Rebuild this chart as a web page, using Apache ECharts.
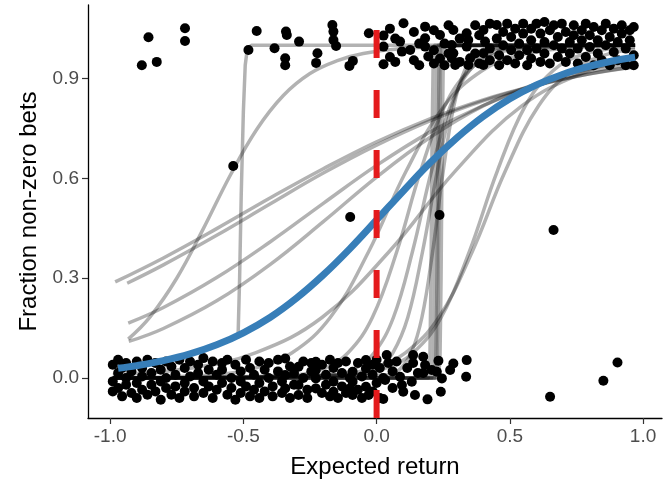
<!DOCTYPE html>
<html>
<head>
<meta charset="utf-8">
<script src="https://cdn.jsdelivr.net/npm/echarts@6/dist/echarts.min.js"></script>
<style>
  html, body { margin: 0; padding: 0; background: #fff; }
  #chart { width: 668px; height: 484px; }
</style>
</head>
<body>
<div id="chart"></div>
<script>
// Axis ticks
const xTicks = [-1, -0.5, 0, 0.5, 1];
const yTicks = [0, 0.3, 0.6, 0.9];

// Trials with no bet (jittered around 0)
const noBetTrials = [
  [-0.99,0.04],[-0.99,-0.01],[-0.99,-0.04],
  [-0.97,0.055],[-0.97,0.015],[-0.97,-0.03],
  [-0.955,-0.055],[-0.955,0.03],
  [-0.94,0.045],[-0.94,-0.02],[-0.94,0.0],
  [-0.92,0.02],[-0.92,-0.045],
  [-0.90,0.05],[-0.90,-0.015],[-0.90,-0.06],
  [-0.88,0.03],[-0.88,0.005],[-0.88,-0.035],
  [-0.86,0.055],[-0.86,-0.05],
  [-0.845,0.015],[-0.845,-0.02],
  [-0.83,0.045],[-0.83,-0.04],
  [-0.81,0.025],[-0.81,-0.01],[-0.81,-0.065],
  [-0.79,0.05],[-0.79,0.0],[-0.79,-0.03],
  [-0.77,0.035],[-0.77,-0.05],
  [-0.755,0.01],[-0.755,-0.025],
  [-0.74,0.055],[-0.74,-0.06],
  [-0.72,0.03],[-0.72,-0.015],[-0.72,-0.04],
  [-0.70,0.05],[-0.70,0.005],
  [-0.685,-0.03],[-0.685,-0.055],
  [-0.67,0.04],[-0.67,0.015],
  [-0.65,0.06],[-0.65,-0.01],[-0.65,-0.045],
  [-0.63,0.025],[-0.63,-0.025],
  [-0.615,0.05],[-0.615,-0.06],
  [-0.60,0.01],[-0.60,-0.035],
  [-0.58,0.045],[-0.58,0.025],[-0.58,-0.015],
  [-0.56,0.055],[-0.56,-0.05],
  [-0.545,0.0],[-0.545,-0.03],
  [-0.53,0.04],[-0.53,-0.065],
  [-0.51,0.02],[-0.51,-0.01],[-0.51,-0.045],
  [-0.49,0.055],[-0.49,-0.025],
  [-0.475,0.03],[-0.475,-0.055],
  [-0.46,0.01],[-0.46,-0.035],
  [-0.44,0.05],[-0.44,-0.015],[-0.44,-0.06],
  [-0.42,0.025],[-0.42,-0.04],
  [-0.405,0.045],[-0.405,0.0],
  [-0.39,-0.025],[-0.39,-0.055],
  [-0.37,0.055],[-0.37,0.02],
  [-0.355,-0.01],[-0.355,-0.045],
  [-0.343,0.059],[-0.343,0.009],[-0.343,-0.031],
  [-0.325,0.035],[-0.325,-0.06],
  [-0.31,0.015],[-0.31,-0.02],
  [-0.293,0.034],[-0.293,-0.021],[-0.293,-0.051],
  [-0.275,0.05],[-0.275,0.0],
  [-0.26,-0.035],[-0.26,-0.06],
  [-0.245,0.02],[-0.245,0.045],
  [-0.228,0.049],[-0.228,0.024],[-0.228,-0.001],[-0.228,-0.031],
  [-0.205,0.04],[-0.205,-0.045],
  [-0.19,0.01],[-0.19,-0.02],
  [-0.175,0.055],[-0.175,-0.055],
  [-0.162,-0.011],[-0.162,-0.041],[-0.162,0.03],
  [-0.145,0.045],[-0.145,-0.06],
  [-0.13,0.015],[-0.13,-0.025],
  [-0.115,0.05],[-0.115,-0.045],
  [-0.1,-0.031],[-0.1,0.0],
  [-0.09,0.019],[-0.09,-0.011],[-0.09,-0.051],
  [-0.07,0.045],[-0.07,-0.035],
  [-0.055,0.005],[-0.055,-0.06],
  [-0.04,0.054],[-0.04,0.029],[-0.04,-0.026],
  [-0.03,-0.051],
  [-0.015,0.04],[-0.015,0.01],[-0.015,-0.04],
  [0.0,0.055],[0.0,-0.015],
  [0.012,0.03],[0.012,-0.06],
  [0.025,-0.063],[0.025,0.0],
  [0.038,0.069],[0.044,0.045],[0.032,-0.006],
  [0.06,0.02],[0.06,-0.03],
  [0.075,0.05],[0.088,0.004],[0.095,-0.021],[0.1,-0.041],
  [0.115,0.03],[0.137,0.069],[0.137,0.045],[0.132,-0.011],[0.144,-0.051],
  [0.155,0.015],[0.175,0.064],[0.175,0.015],[0.182,0.039],[0.191,-0.064],
  [0.207,0.024],[0.232,0.052],[0.226,0.019],[0.245,-0.001],[0.241,-0.041],
  [0.276,0.024],[0.288,0.044],[0.338,0.054],[0.336,0.004],
  [0.651,-0.056],[0.851,-0.008],[0.904,0.047]
];

// Trials with a bet (jittered around 1)
const betTrials = [
  [-0.856,1.024],[-0.881,0.94],[-0.825,0.95],[-0.719,1.051],[-0.719,1.013],
  [-0.45,1.043],[-0.481,0.986],[-0.383,0.991],[-0.34,1.041],[-0.337,1.031],
  [-0.291,1.011],[-0.343,0.961],[-0.343,0.94],[-0.222,0.976],[-0.227,0.947],
  [-0.166,1.061],[-0.162,1.041],[-0.162,1.016],[-0.152,0.998],[-0.089,0.953],
  [-0.102,0.938],[-0.029,1.036],
  [0.026,1.029],[0.026,0.996],[0.026,0.943],
  [0.05,1.05],[0.05,0.965],[0.07,1.02],[0.07,0.95],
  [0.088,1.011],[0.095,0.981],[0.101,1.066],[0.126,0.986],
  [0.14,1.04],[0.14,0.955],[0.16,1.005],[0.16,0.94],
  [0.182,1.056],[0.182,1.021],[0.182,0.996],[0.194,0.966],
  [0.215,1.045],[0.215,0.985],[0.215,0.945],
  [0.238,1.031],[0.238,0.96],[0.255,1.005],[0.255,0.94],
  [0.27,1.06],[0.27,0.975],[0.288,1.046],[0.288,0.976],
  [0.282,1.001],[0.282,0.961],[0.295,0.941],
  [0.312,1.02],[0.312,0.95],[0.338,1.036],[0.338,0.996],
  [0.344,1.016],[0.344,0.941],[0.351,0.961],
  [0.37,1.06],[0.37,0.975],[0.385,1.03],[0.385,0.945],
  [0.401,1.046],[0.401,0.976],[0.401,0.941],[0.407,1.011],
  [0.425,1.065],[0.425,0.99],[0.425,0.955],
  [0.451,1.061],[0.451,1.02],[0.46,0.97],[0.46,0.94],
  [0.475,1.04],[0.475,1.0],[0.49,1.065],[0.49,0.955],
  [0.505,1.025],[0.505,0.985],[0.52,1.05],[0.52,0.945],
  [0.535,1.005],[0.535,0.97],[0.55,1.065],[0.55,1.035],
  [0.565,0.985],[0.565,0.94],[0.58,1.05],[0.58,1.015],[0.58,0.96],
  [0.6,1.065],[0.6,0.99],[0.615,1.035],[0.615,0.95],
  [0.63,1.07],[0.63,1.01],[0.63,0.975],[0.65,1.045],[0.65,0.945],
  [0.665,1.06],[0.665,1.0],[0.68,1.025],[0.68,0.965],
  [0.695,1.065],[0.695,0.99],[0.71,1.04],[0.71,0.95],
  [0.725,1.01],[0.725,0.975],[0.74,1.06],[0.74,1.03],
  [0.755,0.99],[0.755,0.945],[0.77,1.045],[0.77,1.015],
  [0.785,1.065],[0.785,0.965],[0.8,1.03],[0.8,0.995],
  [0.815,1.055],[0.815,0.94],[0.83,1.015],[0.83,0.975],
  [0.845,1.045],[0.845,0.955],[0.86,1.065],[0.86,1.0],
  [0.875,1.025],[0.875,0.94],[0.89,0.98],[0.89,1.05],
  [0.905,1.01],[0.905,0.955],[0.92,1.06],[0.92,1.035],
  [0.935,0.99],[0.935,0.94],[0.95,1.045],[0.95,1.015],
  [0.965,1.055],[0.965,0.97],[0.965,0.94]
];

// Participants with a fractional share of bets
const mixedTrials = [[-0.538,0.637],[-0.099,0.484],[0.236,0.49],[0.664,0.445]];

// Per-participant fits with an almost vertical switch point
const stepFits = [
  [[-0.52,0.12],[-0.514,0.3],[-0.508,0.55],[-0.5,0.8],[-0.493,0.94],[-0.485,0.99],[-0.47,1],[0.97,1]],
  [[-0.99,0],[0.194,0],[0.2,0.06],[0.204,0.3],[0.208,0.7],[0.212,0.94],[0.218,1],[0.97,1]],
  [[-0.99,0],[0.207,0],[0.213,0.06],[0.217,0.3],[0.221,0.7],[0.225,0.94],[0.231,1],[0.97,1]],
  [[-0.99,0],[0.217,0],[0.223,0.06],[0.227,0.3],[0.231,0.7],[0.235,0.94],[0.241,1],[0.97,1]],
  [[-0.99,0],[0.221,0],[0.227,0.06],[0.231,0.3],[0.235,0.7],[0.239,0.94],[0.245,1],[0.97,1]],
  [[-0.99,0],[0.232,0],[0.238,0.06],[0.242,0.3],[0.246,0.7],[0.25,0.94],[0.256,1],[0.97,1]]
];

// Per-participant logistic fits
const smoothFits = [
  [[-0.932,0.117],[-0.85,0.184],[-0.75,0.30],[-0.65,0.449],[-0.55,0.608],[-0.45,0.747],[-0.35,0.849],[-0.25,0.915],[-0.15,0.953],[-0.05,0.975],[0.1,0.99],[0.3,0.997],[0.97,1]],
  [[-0.981,0.289],[-0.8,0.361],[-0.6,0.449],[-0.4,0.541],[-0.2,0.629],[0,0.71],[0.2,0.779],[0.4,0.836],[0.6,0.88],[0.8,0.914],[0.97,0.935]],
  [[-0.936,0.285],[-0.8,0.34],[-0.6,0.429],[-0.4,0.523],[-0.2,0.616],[0,0.70],[0.2,0.773],[0.4,0.833],[0.6,0.879],[0.8,0.914],[0.97,0.936]],
  [[-0.932,0.165],[-0.8,0.212],[-0.6,0.302],[-0.4,0.409],[-0.2,0.525],[0,0.639],[0.2,0.739],[0.4,0.819],[0.6,0.879],[0.8,0.921],[0.97,0.945]],
  [[-0.93,0.11],[-0.8,0.149],[-0.6,0.232],[-0.4,0.341],[-0.2,0.47],[0,0.604],[0.2,0.723],[0.4,0.818],[0.6,0.885],[0.8,0.93],[0.97,0.954]],
  [[-0.99,0.01],[-0.705,0.029],[-0.455,0.076],[-0.205,0.182],[0.045,0.378],[0.295,0.622],[0.545,0.818],[0.795,0.924],[0.97,0.961]],
  [[-0.99,0],[-0.617,0.01],[-0.46,0.029],[-0.317,0.076],[-0.174,0.182],[-0.031,0.378],[0.111,0.622],[0.254,0.818],[0.397,0.924],[0.54,0.971],[0.697,0.99],[0.97,1]],
  [[-0.99,0],[-0.159,0.01],[-0.08,0.029],[-0.009,0.076],[0.063,0.182],[0.134,0.378],[0.206,0.622],[0.277,0.818],[0.349,0.924],[0.42,0.971],[0.499,0.99],[0.97,1]],
  [[-0.99,0],[-0.056,0.01],[0.006,0.029],[0.061,0.076],[0.117,0.182],[0.172,0.378],[0.228,0.622],[0.283,0.818],[0.339,0.924],[0.394,0.971],[0.456,0.99],[0.97,1]],
  [[-0.99,0],[-0.298,0.01],[-0.198,0.029],[-0.107,0.076],[-0.016,0.182],[0.075,0.378],[0.165,0.622],[0.256,0.818],[0.347,0.924],[0.438,0.971],[0.538,0.99],[0.97,1]],
  [[-0.99,0],[0.046,0.01],[0.09,0.029],[0.13,0.076],[0.17,0.182],[0.21,0.378],[0.25,0.622],[0.29,0.818],[0.33,0.924],[0.37,0.971],[0.414,0.99],[0.97,1]],
  [[-0.99,0],[-0.155,0.01],[-0.018,0.029],[0.108,0.076],[0.233,0.182],[0.358,0.378],[0.483,0.622],[0.608,0.818],[0.733,0.924],[0.858,0.971],[0.97,0.988]],
  [[-0.99,0],[-0.084,0.01],[0.032,0.029],[0.137,0.076],[0.242,0.182],[0.347,0.378],[0.453,0.622],[0.558,0.818],[0.663,0.924],[0.768,0.971],[0.884,0.99],[0.97,0.995]]
];

// Pooled logistic fit
const pooledFit = [
  [-0.97,0.0295],[-0.9,0.0373],[-0.8,0.0522],[-0.7,0.0724],[-0.6,0.0998],[-0.5,0.136],
  [-0.4,0.182],[-0.3,0.2405],[-0.2,0.31],[-0.1,0.389],[0,0.475],[0.1,0.562],[0.2,0.646],
  [0.3,0.721],[0.4,0.786],[0.5,0.839],[0.6,0.881],[0.7,0.913],[0.8,0.937],[0.9,0.955],[0.97,0.964]
];

// Break-even reference
const breakEven = 0;

const X_MIN = -1.083, X_MAX = 1.071;
const Y_MIN = -0.12, Y_MAX = 1.121;
const FONT = '"Liberation Sans", Arial, Helvetica, sans-serif';

const chart = echarts.init(document.getElementById('chart'), null, { renderer: 'canvas' });

const fitStyle = { color: 'rgba(0,0,0,0.3)', width: 3.5, cap: 'butt', join: 'round' };

const series = [];
series.push({
  type: 'scatter',
  data: noBetTrials.concat(betTrials, mixedTrials),
  symbol: 'circle',
  symbolSize: 10,
  itemStyle: { color: '#000', opacity: 1 },
  z: 2,
  silent: true
});
stepFits.forEach(function (d) {
  series.push({ type: 'line', data: d, showSymbol: false, symbol: 'none', smooth: false,
    lineStyle: fitStyle, z: 3, silent: true });
});
smoothFits.forEach(function (d) {
  series.push({ type: 'line', data: d, showSymbol: false, symbol: 'none', smooth: 0.4,
    lineStyle: fitStyle, z: 3, silent: true });
});
series.push({
  type: 'line', data: pooledFit, showSymbol: false, symbol: 'none', smooth: 0.4,
  lineStyle: { color: '#377EB8', width: 7, cap: 'butt' }, z: 4, silent: true
});
series.push({
  type: 'line', data: [[breakEven, Y_MIN], [breakEven, Y_MAX]], showSymbol: false, symbol: 'none',
  lineStyle: { color: '#E41A1C', width: 6, type: [28, 32], dashOffset: 0, cap: 'butt' },
  z: 5, silent: true
});

chart.setOption({
  animation: false,
  backgroundColor: '#fff',
  grid: { left: 88, right: 6, top: 5, bottom: 66, containLabel: false },
  xAxis: {
    type: 'value', min: X_MIN, max: X_MAX,
    name: 'Expected return', nameLocation: 'middle', nameGap: 37,
    nameTextStyle: { fontSize: 24, color: '#000', fontFamily: FONT },
    axisLine: { show: true, onZero: false, lineStyle: { color: '#000', width: 1.3 } },
    axisTick: { show: true, length: 6, customValues: xTicks, lineStyle: { color: '#333', width: 1.2 } },
    axisLabel: { customValues: xTicks, formatter: function (v) { return v.toFixed(1); },
      color: '#4D4D4D', fontSize: 19, margin: 9, fontFamily: FONT },
    splitLine: { show: false }
  },
  yAxis: {
    type: 'value', min: Y_MIN, max: Y_MAX,
    name: 'Fraction non-zero bets', nameLocation: 'middle', nameGap: 44,
    nameTextStyle: { fontSize: 24, color: '#000', fontFamily: FONT },
    axisLine: { show: true, onZero: false, lineStyle: { color: '#000', width: 1.3 } },
    axisTick: { show: true, length: 6, customValues: yTicks, lineStyle: { color: '#333', width: 1.2 } },
    axisLabel: { customValues: yTicks, formatter: function (v) { return v.toFixed(1); },
      color: '#4D4D4D', fontSize: 19, margin: 9, fontFamily: FONT },
    splitLine: { show: false }
  },
  series: series
});
</script>
</body>
</html>
